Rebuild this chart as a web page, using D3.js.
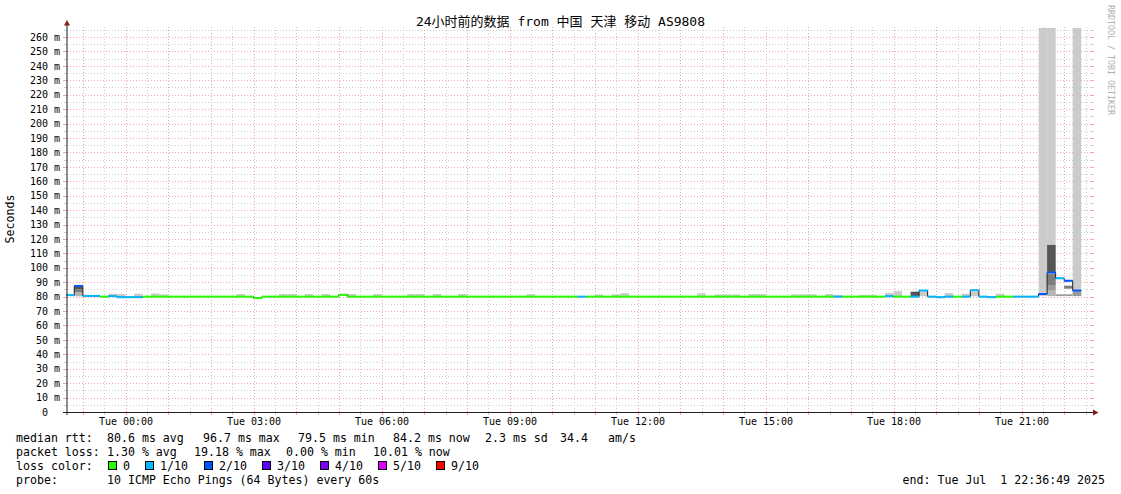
<!DOCTYPE html>
<html><head><meta charset="utf-8">
<script src="https://cdn.jsdelivr.net/npm/d3@7"></script>
<style>
body{margin:0;background:#fff;}
svg text{font-family:"DejaVu Sans Mono","Noto Sans CJK SC",monospace;fill:#000;}
</style></head><body>
<svg id="c" width="1121" height="494"></svg>
<script>
// ---------------- data ----------------
const title = "24小时前的数据 from 中国 天津 移动 AS9808";
const startTime = Date.UTC(2025, 5, 30, 22, 36, 49);
const endTime   = Date.UTC(2025, 6, 1, 22, 36, 49);
const firstStep = Date.UTC(2025, 5, 30, 22, 36, 0);
const stepMinutes = 12;

const yTickValues = [0,10,20,30,40,50,60,70,80,90,100,110,120,130,140,150,160,170,180,190,200,210,220,230,240,250,260];
const xTickLabels = ["Tue 00:00","Tue 03:00","Tue 06:00","Tue 09:00","Tue 12:00","Tue 15:00","Tue 18:00","Tue 21:00"];

// median rtt (ms) per 12-minute step
const median = [
  81.0, 87.4, 80.5, 80.5, 80.0, 80.3, 79.6, 79.6, 79.6, 80.0,
  80.0, 80.0, 80.0, 80.0, 80.0, 80.0, 80.0, 80.0, 80.0, 80.0,
  80.0, 80.0, 79.0, 80.0, 80.0, 80.0, 80.0, 80.0, 80.0, 80.0,
  80.0, 80.0, 81.3, 80.0, 80.0, 80.0, 80.0, 80.0, 80.0, 80.0,
  80.0, 80.0, 80.0, 80.0, 80.0, 80.0, 80.0, 80.0, 80.0, 80.0,
  80.0, 80.0, 80.0, 80.0, 80.0, 80.0, 80.0, 80.0, 80.0, 80.0,
  80.0, 80.0, 80.0, 80.0, 80.0, 80.0, 80.0, 80.0, 80.0, 80.0,
  80.0, 80.0, 80.0, 80.0, 80.0, 80.0, 80.0, 80.0, 80.0, 80.0,
  80.0, 80.0, 80.0, 80.0, 80.0, 80.0, 80.0, 80.0, 80.0, 80.0,
  80.0, 80.0, 80.0, 80.0, 80.0, 80.0, 80.3, 80.0, 80.0, 80.0,
  84.2, 80.0, 79.6, 80.0, 80.0, 80.0, 84.4, 80.0, 79.6, 80.0,
  80.0, 80.0, 80.0, 80.0, 81.8, 96.7, 92.7, 91.0, 84.2, null
];
// loss colour class per step (0 = 0, 1 = 1/10, 2 = 2/10)
const lossClass = [
  1,2,1,1,0,1,1,1,1,0,
  0,0,0,0,0,0,0,0,0,0,
  0,0,0,0,0,0,0,0,0,0,
  0,0,0,0,0,0,0,0,0,0,
  0,0,0,0,0,0,0,0,0,0,
  0,0,0,0,0,0,0,0,0,0,
  1,0,0,0,0,0,0,0,0,0,
  0,0,0,0,0,0,0,0,0,0,
  0,0,0,0,0,0,0,0,0,0,
  1,0,0,0,0,0,1,0,0,1,
  1,1,1,1,0,1,1,1,1,0,
  0,1,1,1,2,2,1,2,2,null
];
// smoke bands: [step, low ms, high ms, shade level 1(light)..5(dark)]
const smokeBands = [
  [5,79.8,82.0,1],[6,79.8,81.8,1],[8,79.8,82.0,1],[10,79.8,82.2,1],[11,79.8,81.5,1],
  [20,79.8,81.8,1],[25,79.8,81.8,1],[26,79.8,81.8,1],[28,79.8,81.8,1],[30,79.8,81.8,1],
  [33,79.8,81.8,1],[36,79.8,81.8,1],[40,79.8,81.8,1],[41,79.8,81.8,1],[43,79.8,81.8,1],
  [46,79.8,81.8,1],[54,79.8,81.8,1],[62,79.8,81.5,1],[64,79.8,81.6,1],[65,79.8,82.4,1],
  [74,79.8,82.4,1],[76,79.8,81.5,1],[77,79.8,81.5,1],[78,79.8,81.5,1],[80,79.8,81.8,1],
  [81,79.8,81.8,1],[85,79.8,81.6,1],[86,79.8,81.6,1],[87,79.8,81.6,1],[89,79.8,81.8,1],
  [90,79.8,81.2,1],[93,79.8,81.2,1],[94,79.8,81.2,1],[96,79.8,82.6,1],[97,79.8,84.0,1],
  [103,79.8,82.5,1],[105,79.8,82.0,1],[109,79.8,82.0,1],
  [1,80.2,83.0,2],[1,83.0,85.0,4],[1,85.0,87.4,5],
  [99,80.4,83.4,5],
  [100,80.3,83.5,1],
  [106,80.3,83.5,1],
  [114,80.3,270,1],
  [115,80.3,270,1],[115,80.4,84.6,2],[115,84.6,88.0,3],[115,88.0,95.6,4],[115,96.7,115.8,5],
  [116,80.4,81.6,3],
  [117,80.4,81.6,3],[117,85.5,87.6,4],
  [118,80.3,270,1],[118,80.4,83.5,3]
];

const lossLabels = ["0","1/10","2/10","3/10","4/10","5/10","9/10"];
const lossColors = ["#26ff00","#00b8ff","#0059ff","#5e00ff","#7e00ff","#dd00ff","#ff0000"];
const shadeColors = {1:"#cbcbcb",2:"#b4b4b4",3:"#9a9a9a",4:"#7c7c7c",5:"#555555"};

const legendMedian = [["median rtt:",16],["80.6 ms avg",107],["96.7 ms max",203],["79.5 ms min",298],["84.2 ms now",393],["2.3 ms sd",485],["34.4",560],["am/s",608]];
const legendLoss = [["packet loss:",16],["1.30 % avg",107],["19.18 % max",194],["0.00 % min",286],["10.01 % now",373]];
const legendBoxX = [108,145,204,262,320,378,436];
const probeText = "10 ICMP Echo Pings (64 Bytes) every 60s";
const endText = "end: Tue Jul  1 22:36:49 2025";

// ---------------- drawing ----------------
const W = 1121, H = 494;
const X0 = 66.35, X1 = 1090.35, Y0 = 412, Y1 = 28;
const svg = d3.select("#c");
svg.append("rect").attr("width", W).attr("height", H).attr("fill", "#fff");

const x = d3.scaleUtc().domain([startTime, endTime]).range([X0, X1]);
const y = d3.scaleLinear().domain([0, (Y0 - Y1) / ((Y0 - 37) / 260)]).range([Y0, Y1]);

const gridCol = "#cfcfcf";
const mgridCol = "#f1a5a5";

const grid = svg.append("g").attr("shape-rendering", "crispEdges");
// horizontal minor (5 ms) lines
const yMax = y.domain()[1];
d3.range(5, yMax, 10).forEach(v => {
  const yy = Math.round(y(v)) + 0.5;
  grid.append("line").attr("x1", 67).attr("x2", 1091).attr("y1", yy).attr("y2", yy)
    .attr("stroke", gridCol).attr("stroke-dasharray", "1,2");
  grid.append("line").attr("x1", 64).attr("x2", 67).attr("y1", yy).attr("y2", yy).attr("stroke", gridCol);
  grid.append("line").attr("x1", 1091).attr("x2", 1094).attr("y1", yy).attr("y2", yy).attr("stroke", gridCol);
});
yTickValues.forEach(v => {
  if (v === 0) return;
  const yy = Math.round(y(v)) + 0.5;
  grid.append("line").attr("x1", 67).attr("x2", 1091).attr("y1", yy).attr("y2", yy)
    .attr("stroke", mgridCol).attr("stroke-dasharray", "1,2");
  grid.append("line").attr("x1", 63).attr("x2", 67).attr("y1", yy).attr("y2", yy).attr("stroke", mgridCol);
  grid.append("line").attr("x1", 1091).attr("x2", 1094).attr("y1", yy).attr("y2", yy).attr("stroke", mgridCol);
});
// vertical lines: every 30 min minor, every hour major
d3.utcMinute.every(30).range(new Date(startTime), new Date(endTime)).forEach(t => {
  const major = t.getUTCMinutes() === 0;
  const xx = Math.round(x(t)) + 0.5;
  const col = major ? mgridCol : gridCol;
  grid.append("line").attr("x1", xx).attr("x2", xx).attr("y1", Y1 - 1).attr("y2", Y0)
    .attr("stroke", col).attr("stroke-dasharray", "1,2");
  grid.append("line").attr("x1", xx).attr("x2", xx).attr("y1", Y0).attr("y2", Y0 + 3).attr("stroke", col);
});

// step geometry
const stepMs = stepMinutes * 60000;
const sx0 = k => Math.max(X0, x(firstStep + k * stepMs));
const sx1 = k => Math.min(X1, x(firstStep + (k + 1) * stepMs));

// smoke
const smoke = svg.append("g");
smokeBands.forEach(([k, lo, hi, s]) => {
  const top = Math.max(Y1, y(hi));
  smoke.append("rect").attr("x", sx0(k)).attr("width", sx1(k) - sx0(k))
    .attr("y", top).attr("height", y(lo) - top).attr("fill", shadeColors[s]);
});

// thin dark median line (shows the vertical transitions)
const pts = [];
median.forEach((v, k) => {
  pts.push([sx0(k), v]); pts.push([sx1(k), v]);
});
svg.append("path")
  .attr("d", d3.line().defined(d => d[1] != null).x(d => d[0]).y(d => y(d[1]))(pts))
  .attr("fill", "none").attr("stroke", "#202020").attr("stroke-width", 1);

// coloured median segments by loss
const lines = svg.append("g");
median.forEach((v, k) => {
  if (v == null) return;
  lines.append("line").attr("x1", sx0(k)).attr("x2", sx1(k)).attr("y1", y(v)).attr("y2", y(v))
    .attr("stroke", lossColors[lossClass[k]]).attr("stroke-width", 2);
});

// axes (labels via d3 axes)
const labelTimes = xTickLabels.map(s => {
  const [hh, mm] = s.split(" ")[1].split(":").map(Number);
  return new Date(Date.UTC(2025, 6, 1, hh, mm));
});
const xAxis = svg.append("g").attr("transform", `translate(0,${Y0})`)
  .call(d3.axisBottom(x).tickValues(labelTimes).tickFormat(d3.utcFormat("%a %H:%M")).tickSize(0).tickPadding(6));
xAxis.select(".domain").remove();
xAxis.selectAll("text").attr("font-size", "10px").style("font-family", "'DejaVu Sans Mono',monospace");

const yAxis = svg.append("g").attr("transform", `translate(67,0)`)
  .call(d3.axisLeft(y).tickValues(yTickValues).tickFormat(v => v === 0 ? "0\u00a0\u00a0" : v + " m").tickSize(0).tickPadding(7));
yAxis.select(".domain").remove();
yAxis.selectAll("text").attr("font-size", "10px").style("font-family", "'DejaVu Sans Mono',monospace");

// axis lines and arrows
svg.append("line").attr("x1", 67).attr("x2", 67).attr("y1", 415).attr("y2", 24).attr("stroke", "#1f1f1f").attr("stroke-width", 1);
svg.append("line").attr("x1", 63).attr("x2", 1094).attr("y1", 412.5).attr("y2", 412.5).attr("stroke", "#1f1f1f").attr("stroke-width", 1);
svg.append("path").attr("d", "M64,25.5 L70,25.5 L67,20 Z").attr("fill", "#7f1f1f");
svg.append("path").attr("d", "M1093,409.5 L1093,415.5 L1098.5,412.5 Z").attr("fill", "#7f1f1f");

// title and side texts
svg.append("text").attr("x", 560.5).attr("y", 26).attr("text-anchor", "middle")
  .attr("font-size", "13px").text(title);
svg.append("text").attr("transform", "translate(14,219) rotate(-90)").attr("text-anchor", "middle")
  .attr("font-size", "11.6px").text("Seconds");
svg.append("text").attr("transform", "translate(1108,5) rotate(90)")
  .attr("font-size", "8.3px").style("fill", "#b0b0b0").text("RRDTOOL / TOBI OETIKER");

// legend
const leg = svg.append("g").attr("font-size", "11.6px");
legendMedian.forEach(([t, xx]) => leg.append("text").attr("x", xx).attr("y", 442).text(t));
legendLoss.forEach(([t, xx]) => leg.append("text").attr("x", xx).attr("y", 456).text(t));
leg.append("text").attr("x", 16).attr("y", 470).text("loss color:");
lossLabels.forEach((t, i) => {
  leg.append("rect").attr("x", legendBoxX[i] + 0.5).attr("y", 461.5).attr("width", 8).attr("height", 8)
    .attr("fill", lossColors[i]).attr("stroke", "#000").attr("stroke-width", 1);
  leg.append("text").attr("x", legendBoxX[i] + 15).attr("y", 470).text(t);
});
leg.append("text").attr("x", 16).attr("y", 484).text("probe:");
leg.append("text").attr("x", 107).attr("y", 484).text(probeText);
leg.append("text").attr("x", 1105).attr("y", 484).attr("text-anchor", "end").style("white-space", "pre").text(endText);
</script>
</body></html>
